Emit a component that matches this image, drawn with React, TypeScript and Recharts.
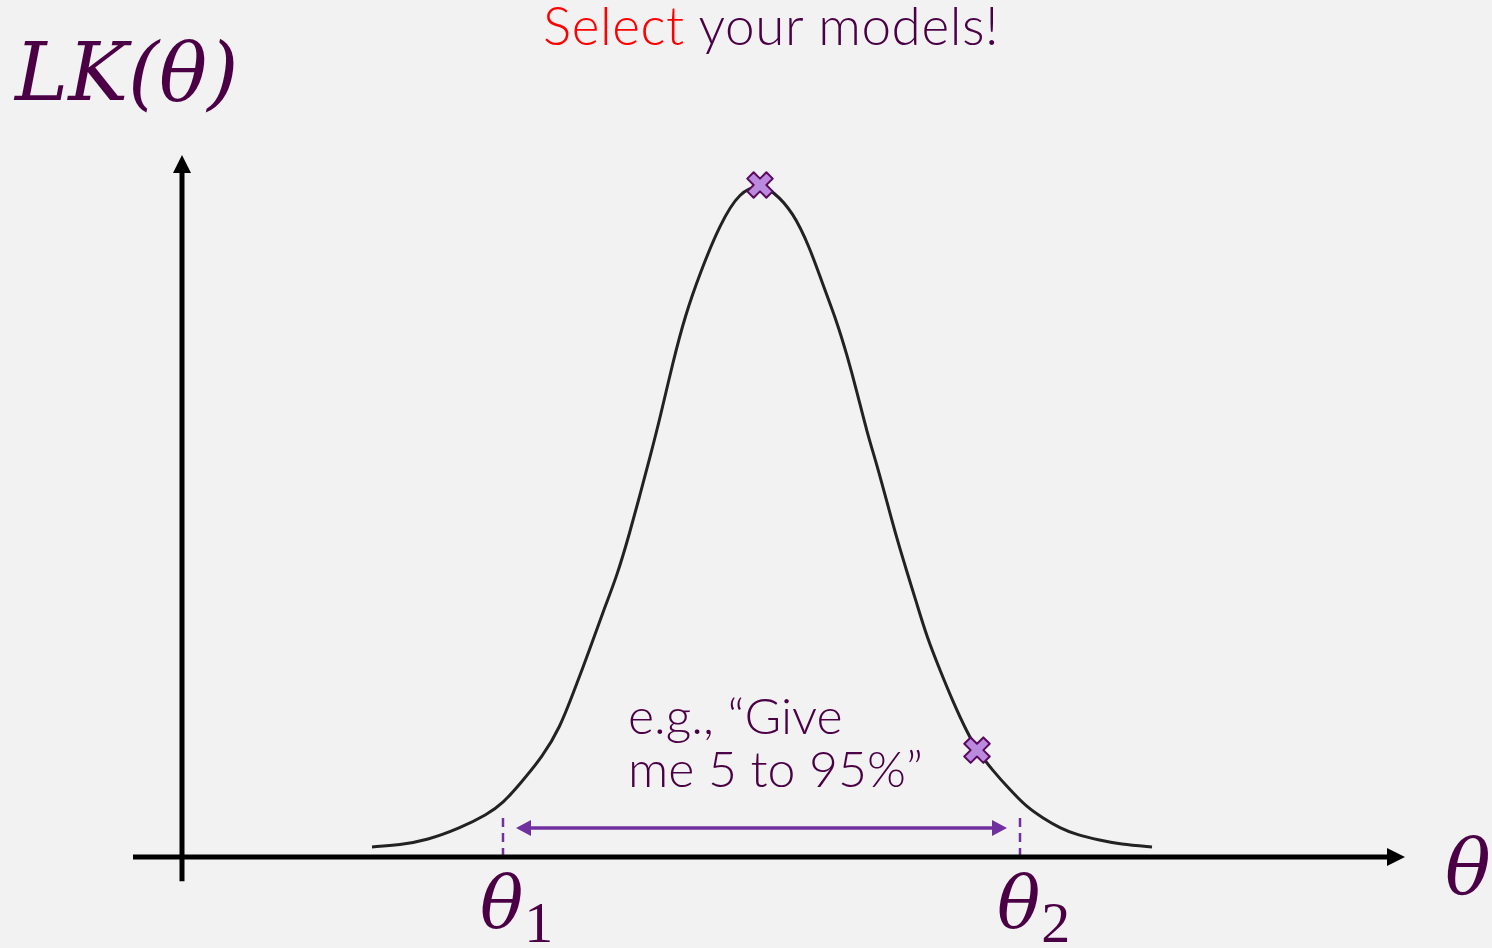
import React from "react";
import {
  ComposedChart,
  Line,
  Scatter,
  XAxis,
  YAxis,
  ReferenceLine,
  ReferenceDot,
} from "recharts";

const INK = "#4b0046";
const PURPLE = "#7030a0";
const SERIF = "'DejaVu Serif', serif";
const SANS = "Lato, 'Open Sans', sans-serif";

// likelihood curve, sampled along theta
const thetaValues = [
  1.9, 2.18, 2.45, 2.78, 3.05, 3.21, 3.38, 3.61, 3.78, 3.91, 4.08, 4.21, 4.35,
  4.48, 4.58, 4.68, 4.78, 4.91, 5.03, 5.18, 5.38, 5.58, 5.78, 5.91, 6.11, 6.28,
  6.41, 6.55, 6.65, 6.75, 6.85, 6.95, 7.05, 7.15, 7.25, 7.35, 7.45, 7.58, 7.71,
  7.85, 7.95, 8.11, 8.28, 8.45, 8.61, 8.78, 8.95, 9.18, 9.38, 9.7,
];
const lkValues = [
  0.015, 0.018, 0.025, 0.043, 0.063, 0.08, 0.109, 0.15, 0.193, 0.243, 0.31,
  0.365, 0.418, 0.484, 0.539, 0.595, 0.653, 0.737, 0.805, 0.869, 0.942, 0.991,
  1.0, 0.991, 0.96, 0.906, 0.851, 0.796, 0.747, 0.692, 0.632, 0.583, 0.528,
  0.473, 0.424, 0.376, 0.327, 0.278, 0.231, 0.186, 0.159, 0.128, 0.1, 0.074,
  0.058, 0.043, 0.033, 0.025, 0.019, 0.015,
];

// picked models (the maximum and one point on the right flank)
const markerTheta = [5.78, 7.95];
const markerLk = [1.0, 0.159];

// interval bounds
const boundTheta = [3.21, 8.38];
const boundLabels = ["1", "2"];
const boundHeight = 0.065;
const spanTheta = [3.34, 8.25];
const spanLk = 0.043;

const thetaDomain = [0, 12.23];
const lkDomain = [0, 1.0446];

const curve = thetaValues.map((theta, i) => ({ theta, lk: lkValues[i] }));
const markers = markerTheta.map((theta, i) => ({ theta, lk: markerLk[i] }));

type ArrowOpts = {
  color: string;
  width: number;
  head: number;
  half: number;
  start?: boolean;
  end?: boolean;
};

function headPoints(tx: number, ty: number, ux: number, uy: number, len: number, half: number) {
  const bx = tx - ux * len;
  const by = ty - uy * len;
  const px = -uy * half;
  const py = ux * half;
  return `${tx},${ty} ${bx + px},${by + py} ${bx - px},${by - py}`;
}

function arrowShape(o: ArrowOpts) {
  return (p: any) => {
    const { x1, y1, x2, y2 } = p;
    const len = Math.hypot(x2 - x1, y2 - y1) || 1;
    const ux = (x2 - x1) / len;
    const uy = (y2 - y1) / len;
    const sx = o.start ? x1 + ux * (o.head - 1) : x1;
    const sy = o.start ? y1 + uy * (o.head - 1) : y1;
    const ex = o.end ? x2 - ux * (o.head - 1) : x2;
    const ey = o.end ? y2 - uy * (o.head - 1) : y2;
    return (
      <g>
        <line x1={sx} y1={sy} x2={ex} y2={ey} stroke={o.color} strokeWidth={o.width} />
        {o.end && <polygon points={headPoints(x2, y2, ux, uy, o.head, o.half)} fill={o.color} />}
        {o.start && (
          <polygon points={headPoints(x1, y1, -ux, -uy, o.head, o.half)} fill={o.color} />
        )}
      </g>
    );
  };
}

function dashedShape(p: any) {
  return (
    <line
      x1={p.x1}
      y1={p.y1}
      x2={p.x2}
      y2={p.y2}
      stroke={PURPLE}
      strokeWidth={2.5}
      strokeDasharray="9 6"
    />
  );
}

function Cross(props: any) {
  const { cx, cy } = props;
  const L = 13.5;
  const t = 4.5;
  const pts = [
    [-t, -L], [t, -L], [t, -t], [L, -t], [L, t], [t, t],
    [t, L], [-t, L], [-t, t], [-L, t], [-L, -t], [-t, -t],
  ]
    .map(([x, y]) => `${x},${y}`)
    .join(" ");
  return (
    <polygon
      points={pts}
      transform={`translate(${cx},${cy}) rotate(45)`}
      fill="#b98ade"
      stroke="#5a0a5e"
      strokeWidth={2}
      strokeLinejoin="round"
    />
  );
}

function boundLabel(sub: string) {
  return (p: any) => (
    <text x={p.cx - 23} y={p.cy + 71} fill={INK}>
      <tspan fontFamily={SERIF} fontStyle="italic" fontSize={72}>
        θ
      </tspan>
      <tspan fontFamily="'Liberation Serif', serif" fontSize={58} dx={1} dy={14}>
        {sub}
      </tspan>
    </text>
  );
}

export default function App() {
  return (
    <div
      style={{
        position: "absolute",
        left: 0,
        top: 0,
        width: 1492,
        height: 948,
        background: "#f2f2f2",
        overflow: "hidden",
      }}
    >
      <ComposedChart
        width={1492}
        height={948}
        margin={{ top: 155, right: 87, bottom: 91, left: 182 }}
      >
        <XAxis
          type="number"
          dataKey="theta"
          domain={thetaDomain}
          allowDataOverflow
          hide
        />
        <YAxis type="number" dataKey="lk" domain={lkDomain} allowDataOverflow hide />

        <Line
          data={curve}
          dataKey="lk"
          type="basis"
          stroke="#222222"
          strokeWidth={3}
          dot={false}
          activeDot={false}
          isAnimationActive={false}
        />

        {boundTheta.map((t) => (
          <ReferenceLine
            key={t}
            segment={[
              { x: t, y: 0 },
              { x: t, y: boundHeight },
            ]}
            ifOverflow="visible"
            shape={dashedShape}
          />
        ))}

        {/* axes */}
        <ReferenceLine
          segment={[
            { x: -0.49, y: 0 },
            { x: thetaDomain[1], y: 0 },
          ]}
          ifOverflow="visible"
          shape={arrowShape({ color: "#000", width: 5, head: 18, half: 9, end: true })}
        />
        <ReferenceLine
          segment={[
            { x: 0, y: -0.036 },
            { x: 0, y: lkDomain[1] },
          ]}
          ifOverflow="visible"
          shape={arrowShape({ color: "#000", width: 5, head: 18, half: 9, end: true })}
        />

        <ReferenceLine
          segment={[
            { x: spanTheta[0], y: spanLk },
            { x: spanTheta[1], y: spanLk },
          ]}
          ifOverflow="visible"
          shape={arrowShape({
            color: PURPLE,
            width: 3.5,
            head: 15,
            half: 8,
            start: true,
            end: true,
          })}
        />

        <Scatter data={markers} shape={<Cross />} isAnimationActive={false} />

        {boundTheta.map((t, i) => (
          <ReferenceDot
            key={`l${t}`}
            x={t}
            y={0}
            r={0}
            ifOverflow="visible"
            shape={boundLabel(boundLabels[i])}
          />
        ))}

        <ReferenceDot
          x={thetaDomain[1]}
          y={0}
          r={0}
          ifOverflow="visible"
          shape={(p: any) => (
            <text
              x={p.cx + 40}
              y={p.cy + 36}
              fill={INK}
              fontFamily={SERIF}
              fontStyle="italic"
              fontSize={76}
            >
              θ
            </text>
          )}
        />

        <text x={15} y={100} fill={INK} fontFamily={SERIF} fontStyle="italic" fontSize={80}>
          LK(θ)
        </text>

        <text x={543} y={45} fontFamily={SANS} fontWeight={300} fontSize={53} letterSpacing={0.6}>
          <tspan fill="#ff0000">Select</tspan>
          <tspan fill={INK}> your models!</tspan>
        </text>

        <text fill={INK} fontFamily={SANS} fontWeight={300} fontSize={50}>
          <tspan x={628} y={734}>
            e.g., “Give
          </tspan>
          <tspan x={628} y={787}>
            me 5 to 95%”
          </tspan>
        </text>
      </ComposedChart>
    </div>
  );
}
